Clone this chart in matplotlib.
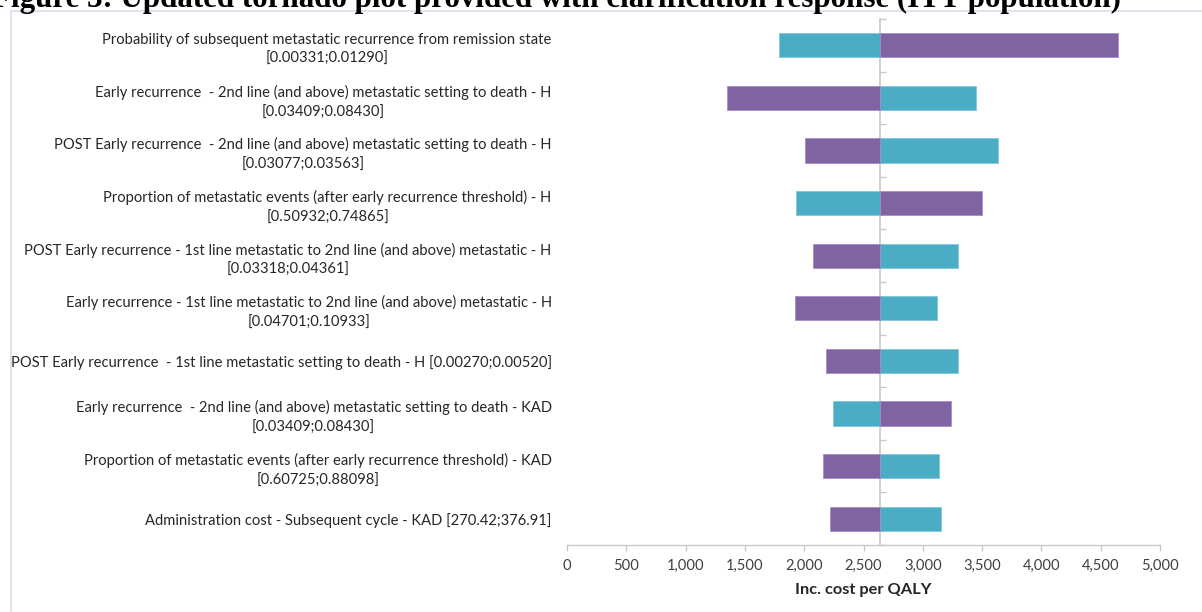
import matplotlib
matplotlib.use("Agg")
import matplotlib.pyplot as plt
from matplotlib.patches import Rectangle
from matplotlib.ticker import FuncFormatter

# Parameters varied in the one-way sensitivity analysis (top to bottom)
parameters = [
    "Probability of subsequent metastatic recurrence from remission state\n[0.00331;0.01290]",
    "Early recurrence  - 2nd line (and above) metastatic setting to death - H\n[0.03409;0.08430]",
    "POST Early recurrence  - 2nd line (and above) metastatic setting to death - H\n[0.03077;0.03563]",
    "Proportion of metastatic events (after early recurrence threshold) - H\n[0.50932;0.74865]",
    "POST Early recurrence - 1st line metastatic to 2nd line (and above) metastatic - H\n[0.03318;0.04361]",
    "Early recurrence - 1st line metastatic to 2nd line (and above) metastatic - H\n[0.04701;0.10933]",
    "POST Early recurrence  - 1st line metastatic setting to death - H [0.00270;0.00520]",
    "Early recurrence  - 2nd line (and above) metastatic setting to death - KAD\n[0.03409;0.08430]",
    "Proportion of metastatic events (after early recurrence threshold) - KAD\n[0.60725;0.88098]",
    "Administration cost - Subsequent cycle - KAD [270.42;376.91]",
]

# Incremental cost per QALY (base case and the two bounds of each parameter)
base_icer = 2640
icer_series_a = [1786, 3451, 3634, 1935, 3297, 3120, 3293, 2240, 3135, 3152]
icer_series_b = [4643, 1349, 2006, 3503, 2072, 1920, 2188, 3241, 2157, 2216]

x_ticks = list(range(0, 5001, 500))
x_label = "Inc. cost per QALY"
title = "Figure 3: Updated tornado plot provided with clarification response (ITT population)"

color_a = "#4BACC6"
color_b = "#8064A2"
axis_grey = "#C8C8C8"
text_grey = "#404040"
label_font = ["Lato", "DejaVu Sans"]

W, H = 1202, 612
fig = plt.figure(figsize=(W / 100, H / 100), dpi=100)
fig.patch.set_facecolor("white")

# Chart frame
fig.add_artist(Rectangle((11 / W, -0.1), 1.2, (H - 11) / H + 0.1,
                         transform=fig.transFigure, fill=False,
                         edgecolor="#D9DEEA", linewidth=1.2))

# Caption, running off the top edge of the page
fig.text(-8 / W, 1 - 7 / H, title, ha="left", va="baseline",
         fontsize=22.3, fontweight="bold", family="Liberation Serif",
         color="black")

ax = fig.add_axes([567 / W, 1 - 545 / H, (1160 - 567) / W, (545 - 19) / H])
ax.set_facecolor("none")

rows = list(range(len(parameters)))
bar_h = 0.46
ax.barh(rows, [v - base_icer for v in icer_series_a], left=base_icer,
        height=bar_h, color=color_a, edgecolor="#7FC8DA", linewidth=0.6, zorder=2)
ax.barh(rows, [v - base_icer for v in icer_series_b], left=base_icer,
        height=bar_h, color=color_b, edgecolor="#A68CC4", linewidth=0.6, zorder=2)

ax.set_xlim(x_ticks[0], x_ticks[-1])
ax.set_ylim(len(parameters) - 0.5, -0.5)

for side in ("top", "right", "left"):
    ax.spines[side].set_visible(False)
ax.spines["bottom"].set_color(axis_grey)
ax.spines["bottom"].set_linewidth(1.0)

ax.set_xticks(x_ticks)
ax.xaxis.set_major_formatter(FuncFormatter(lambda v, p: f"{int(v):,}"))
ax.tick_params(axis="x", direction="out", length=4, width=1.0, color=axis_grey,
               labelsize=10.6, labelcolor=text_grey, pad=6)
for t in ax.get_xticklabels():
    t.set_family(label_font)

ax.set_xlabel(x_label, fontsize=11.8, fontweight="bold", color="#262626",
              family=label_font, labelpad=7)

# Parameter labels on the left edge
ax.set_yticks(rows)
ax.set_yticklabels(parameters, fontsize=10.6, color="#262626",
                   family=label_font, ha="right", multialignment="center",
                   linespacing=1.5)
ax.tick_params(axis="y", length=0, pad=11)

# Category axis crossing at the base case value
sec = ax.secondary_yaxis(base_icer / x_ticks[-1])
sec.set_yticks([r - 0.5 for r in rows] + [len(rows) - 0.5])
sec.tick_params(axis="y", direction="out", length=4, width=1.0,
                color=axis_grey, labelleft=False, labelright=False)
for sp in sec.spines.values():
    sp.set_color(axis_grey)
    sp.set_linewidth(1.2)
    sp.set_zorder(3)

fig.savefig("out.png", dpi=100, facecolor="white")
